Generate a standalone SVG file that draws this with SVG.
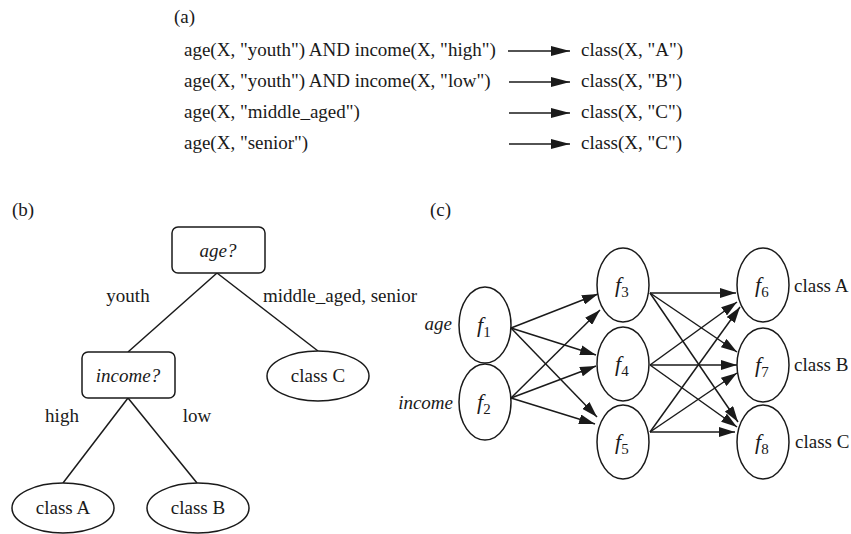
<svg xmlns="http://www.w3.org/2000/svg" width="851" height="534" viewBox="0 0 851 534">
<style>
text{font-family:'Liberation Serif','Times New Roman',serif;fill:#1a1a1a;font-size:19px}
.it{font-style:italic}
.sh{fill:#fff;stroke:#1a1a1a;stroke-width:1.5}
.ln{stroke:#1a1a1a;stroke-width:1.5;fill:none}
.ar{stroke:#1a1a1a;stroke-width:1.5;fill:none;marker-end:url(#ah)}
.ara{stroke:#1a1a1a;stroke-width:1.6;fill:none;marker-end:url(#ahA)}
.f{font-size:22px;font-style:italic}
.sub{font-size:15px;font-style:normal}
</style>
<defs>
<marker id="ah" markerUnits="userSpaceOnUse" markerWidth="16" markerHeight="10" refX="16" refY="5" orient="auto"><path d="M0,0 L16,5 L0,10 z" fill="#1a1a1a"/></marker>
<marker id="ahA" markerUnits="userSpaceOnUse" markerWidth="19" markerHeight="10" refX="19" refY="5" orient="auto"><path d="M0,0 L19,5 L0,10 z" fill="#1a1a1a"/></marker>
</defs>
<rect width="851" height="534" fill="#fff"/>

<g id="panel-a">
<text x="174" y="23">(a)</text>
<text x="184" y="56">age(X, "youth") AND income(X, "high")</text>
<text x="184" y="87">age(X, "youth") AND income(X, "low")</text>
<text x="184" y="118">age(X, "middle_aged")</text>
<text x="184" y="149">age(X, "senior")</text>
<text x="581" y="56">class(X, "A")</text>
<text x="581" y="87">class(X, "B")</text>
<text x="581" y="118">class(X, "C")</text>
<text x="581" y="149">class(X, "C")</text>
</g>
<g id="rule-arrows">
<line class="ara" x1="508" y1="51" x2="570" y2="51"/>
<line class="ara" x1="509" y1="82" x2="570" y2="82"/>
<line class="ara" x1="509" y1="113" x2="570" y2="113"/>
<line class="ara" x1="509" y1="144" x2="570" y2="144"/>
</g>

<text x="12" y="216">(b)</text>
<g id="tree-edges">
<line class="ln" x1="217" y1="273" x2="128" y2="352"/>
<line class="ln" x1="217" y1="273" x2="318" y2="351"/>
<line class="ln" x1="128" y1="398" x2="63" y2="483"/>
<line class="ln" x1="128" y1="398" x2="197" y2="483"/>
<text x="128" y="302" text-anchor="middle">youth</text>
<text x="263" y="302">middle_aged, senior</text>
<text x="62" y="422" text-anchor="middle">high</text>
<text x="197" y="422" text-anchor="middle">low</text>
</g>
<g id="age">
<rect class="sh" x="172" y="227" width="93" height="46" rx="6"/>
<text class="it" x="218" y="257" text-anchor="middle">age?</text>
</g>
<g id="income">
<rect class="sh" x="82" y="352" width="93" height="46" rx="6"/>
<text class="it" x="128" y="382" text-anchor="middle">income?</text>
</g>
<g id="classC">
<ellipse class="sh" cx="318" cy="376" rx="51" ry="25"/>
<text x="318" y="382" text-anchor="middle">class C</text>
</g>
<g id="classA">
<ellipse class="sh" cx="63" cy="508" rx="51" ry="25"/>
<text x="63" y="514" text-anchor="middle">class A</text>
</g>
<g id="classB">
<ellipse class="sh" cx="198" cy="508" rx="51" ry="25"/>
<text x="198" y="514" text-anchor="middle">class B</text>
</g>

<text x="430" y="216">(c)</text>
<g id="nn-edges">
<line class="ar" x1="511" y1="328" x2="598" y2="294"/>
<line class="ar" x1="511" y1="328" x2="596" y2="355"/>
<line class="ar" x1="511" y1="328" x2="597" y2="417"/>
<line class="ar" x1="511" y1="398" x2="600" y2="310"/>
<line class="ar" x1="511" y1="398" x2="596" y2="366"/>
<line class="ar" x1="511" y1="398" x2="595" y2="424"/>
<line class="ar" x1="650" y1="293" x2="736" y2="293"/>
<line class="ar" x1="650" y1="293" x2="737" y2="352"/>
<line class="ar" x1="650" y1="293" x2="738" y2="422"/>
<line class="ar" x1="650" y1="365" x2="737" y2="302"/>
<line class="ar" x1="650" y1="365" x2="737" y2="365"/>
<line class="ar" x1="650" y1="365" x2="737" y2="427"/>
<line class="ar" x1="650" y1="432" x2="740" y2="307"/>
<line class="ar" x1="650" y1="432" x2="737" y2="373"/>
<line class="ar" x1="650" y1="432" x2="735" y2="432"/>
</g>
<g id="f1">
<ellipse class="sh" cx="485" cy="325" rx="26" ry="38"/>
<text class="f" x="477" y="332">f<tspan class="sub" dy="5">1</tspan></text>
<text class="it" x="452" y="330" text-anchor="end">age</text>
</g>
<g id="f2">
<ellipse class="sh" cx="485" cy="402" rx="26" ry="38"/>
<text class="f" x="477" y="409">f<tspan class="sub" dy="5">2</tspan></text>
<text class="it" x="453" y="409" text-anchor="end">income</text>
</g>
<g id="f3">
<ellipse class="sh" cx="623" cy="285" rx="26" ry="37"/>
<text class="f" x="615" y="292">f<tspan class="sub" dy="5">3</tspan></text>
</g>
<g id="f4">
<ellipse class="sh" cx="623" cy="364" rx="26" ry="37"/>
<text class="f" x="615" y="371">f<tspan class="sub" dy="5">4</tspan></text>
</g>
<g id="f5">
<ellipse class="sh" cx="623" cy="442" rx="26" ry="37"/>
<text class="f" x="615" y="449">f<tspan class="sub" dy="5">5</tspan></text>
</g>
<g id="f6">
<ellipse class="sh" cx="763" cy="285" rx="26" ry="37"/>
<text class="f" x="755" y="292">f<tspan class="sub" dy="5">6</tspan></text>
<text x="794" y="292">class A</text>
</g>
<g id="f7">
<ellipse class="sh" cx="763" cy="365" rx="26" ry="37"/>
<text class="f" x="755" y="372">f<tspan class="sub" dy="5">7</tspan></text>
<text x="794" y="371">class B</text>
</g>
<g id="f8">
<ellipse class="sh" cx="763" cy="442" rx="26" ry="37"/>
<text class="f" x="755" y="449">f<tspan class="sub" dy="5">8</tspan></text>
<text x="795" y="448">class C</text>
</g>
</svg>
